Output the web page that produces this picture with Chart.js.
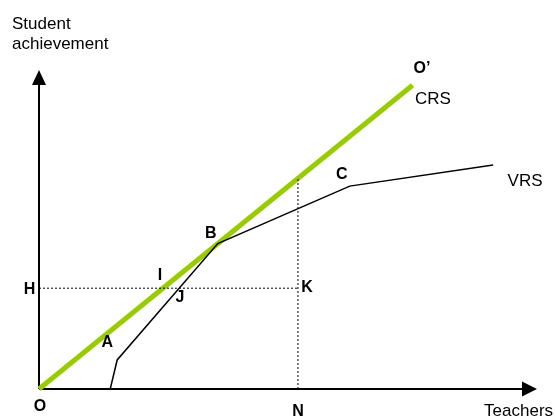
<!DOCTYPE html>
<html>
<head>
<meta charset="utf-8">
<title>CRS vs VRS</title>
<script src="https://cdn.jsdelivr.net/npm/chart.js@4/dist/chart.umd.min.js"></script>
<style>
    html, body { margin: 0; padding: 0; background: #ffffff; }
    canvas { display: block; }
</style>
</head>
<body>
<canvas id="frontierChart" width="555" height="419"></canvas>
<script>
// Frontier data (teachers on x, student achievement on y)
const crsPoints = [{ x: 0, y: 0 }, { x: 75, y: 95.2 }];
const vrsPoints = [
    { x: 14.3, y: 0 },
    { x: 15.7, y: 9.1 },
    { x: 35.9, y: 45.6 },
    { x: 62.4, y: 63.6 },
    { x: 91.2, y: 70.2 }
];
const levelH = [{ x: 0, y: 31.6 }, { x: 52, y: 31.6 }];
const levelN = [{ x: 52, y: 0 }, { x: 52, y: 66 }];

// Point labels: text, position in data units, bold or not
const pointLabels = [
    { text: 'O\u2019', x: 76.9, y: 100.4, bold: true },
    { text: 'CRS', x: 79.1, y: 90.9, bold: false },
    { text: 'VRS', x: 97.6, y: 65.2, bold: false },
    { text: 'C', x: 60.8, y: 67.1, bold: true },
    { text: 'B', x: 34.5, y: 48.6, bold: true },
    { text: 'I', x: 24.3, y: 35.7, bold: true },
    { text: 'J', x: 28.3, y: 28.8, bold: true },
    { text: 'H', x: -1.9, y: 31.3, bold: true },
    { text: 'K', x: 53.8, y: 31.7, bold: true },
    { text: 'A', x: 13.7, y: 14.7, bold: true },
    { text: 'O', x: 0.2, y: -5.6, bold: true },
    { text: 'N', x: 52.0, y: -7.2, bold: true },
    { text: 'Teachers', x: 96.3, y: -6.9, bold: false }
];
const yTitle = ['Student', 'achievement'];

document.addEventListener('DOMContentLoaded', () => {
    const ctx = document.getElementById('frontierChart').getContext('2d');

    // Draws the two axes with their arrow heads
    const axesPlugin = {
        id: 'axesPlugin',
        beforeDatasetsDraw(chart) {
            const { ctx, chartArea } = chart;
            const { left, right, top, bottom } = chartArea;
            ctx.save();
            ctx.strokeStyle = '#000000';
            ctx.fillStyle = '#000000';
            ctx.lineWidth = 2;
            ctx.beginPath();
            ctx.moveTo(left, bottom);
            ctx.lineTo(left, top + 14);
            ctx.moveTo(left, bottom);
            ctx.lineTo(right - 14, bottom);
            ctx.stroke();
            // y arrow
            ctx.beginPath();
            ctx.moveTo(left, top);
            ctx.lineTo(left - 7, top + 15);
            ctx.lineTo(left + 7, top + 15);
            ctx.closePath();
            ctx.fill();
            // x arrow
            ctx.beginPath();
            ctx.moveTo(right, bottom);
            ctx.lineTo(right - 15, bottom - 7.5);
            ctx.lineTo(right - 15, bottom + 7.5);
            ctx.closePath();
            ctx.fill();
            ctx.restore();
        },
        afterDraw(chart) {
            const { ctx, chartArea, scales } = chart;
            ctx.save();
            ctx.fillStyle = '#000000';
            ctx.textAlign = 'center';
            ctx.textBaseline = 'middle';
            pointLabels.forEach(lbl => {
                ctx.font = lbl.bold ? 'bold 16px "Liberation Sans", Arial, sans-serif' : '17px "Liberation Sans", Arial, sans-serif';
                ctx.fillText(lbl.text, scales.x.getPixelForValue(lbl.x), scales.y.getPixelForValue(lbl.y));
            });
            // y axis title, two lines
            ctx.font = '17px "Liberation Sans", Arial, sans-serif';
            ctx.textAlign = 'left';
            ctx.textBaseline = 'alphabetic';
            yTitle.forEach((line, i) => {
                ctx.fillText(line, chartArea.left - 27, chartArea.top - 41 + i * 20);
            });
            ctx.restore();
        }
    };

    const lineSet = (data, color, width, dash) => ({
        data: data,
        showLine: true,
        borderColor: color,
        backgroundColor: color,
        borderWidth: width,
        borderDash: dash || [],
        pointRadius: 0,
        pointHoverRadius: 0,
        tension: 0,
        clip: false
    });

    new Chart(ctx, {
        type: 'scatter',
        data: {
            datasets: [
                lineSet(levelH, '#000000', 1, [2, 2]),
                lineSet(levelN, '#000000', 1, [2, 2]),
                lineSet(vrsPoints, '#000000', 1.5),
                lineSet(crsPoints, '#99cc00', 5)
            ]
        },
        options: {
            responsive: false,
            animation: false,
            devicePixelRatio: 1,
            layout: { padding: { left: 39, right: 18, top: 70, bottom: 30 } },
            scales: {
                x: { type: 'linear', min: 0, max: 100, display: false },
                y: { type: 'linear', min: 0, max: 100, display: false }
            },
            plugins: {
                legend: { display: false },
                tooltip: { enabled: false }
            }
        },
        plugins: [axesPlugin]
    });
});
</script>
</body>
</html>
